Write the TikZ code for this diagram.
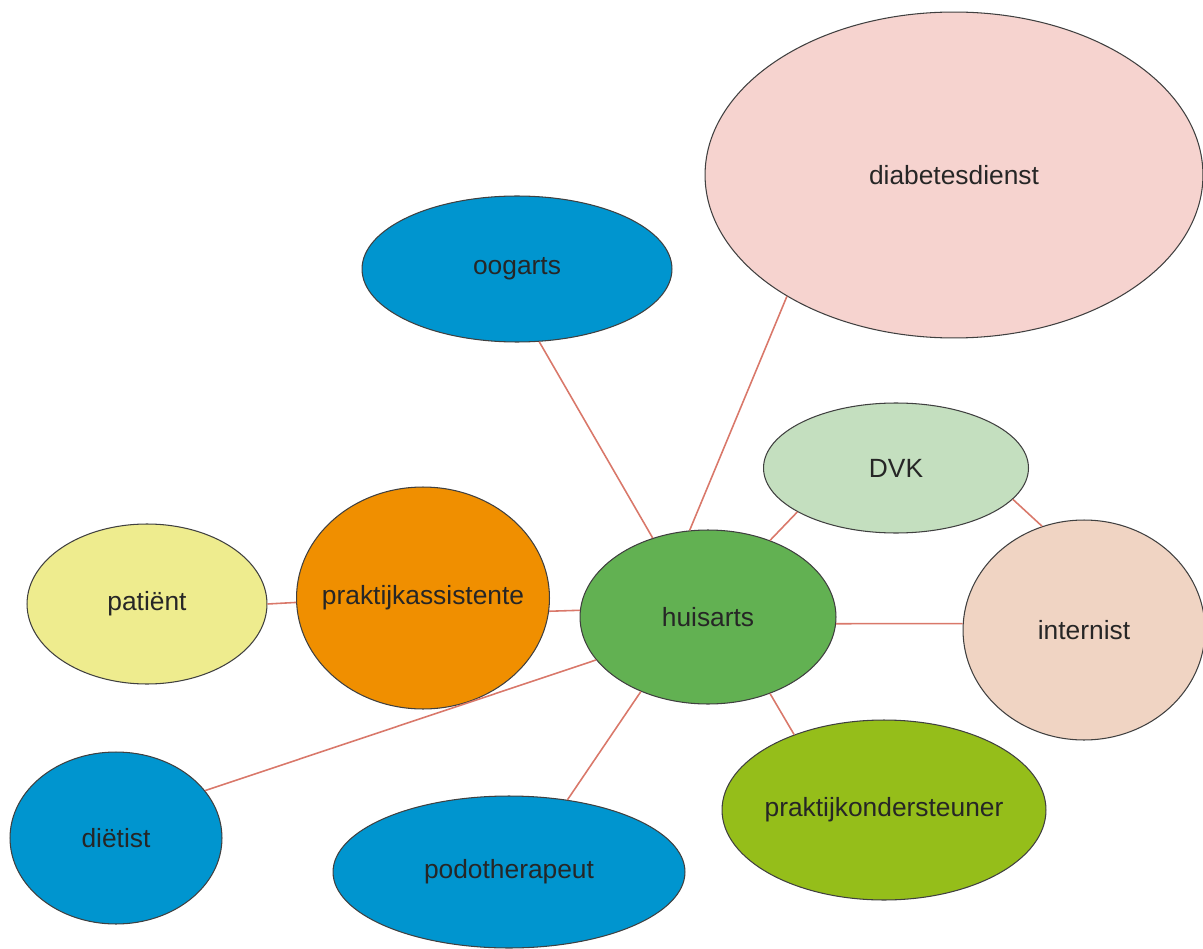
\documentclass[tikz,border=0pt]{standalone}
\usepackage{fontspec}
\setmainfont{Liberation Sans}
\usetikzlibrary{shapes.geometric}
\definecolor{pinkfill}{HTML}{F6D3CF}
\definecolor{bluefill}{HTML}{0095CF}
\definecolor{dvkfill}{HTML}{C4DFBF}
\definecolor{peachfill}{HTML}{F0D4C3}
\definecolor{yellowfill}{HTML}{EEEC8E}
\definecolor{orangefill}{HTML}{F08F00}
\definecolor{greenfill}{HTML}{62B152}
\definecolor{limefill}{HTML}{95BE1A}
\definecolor{linkred}{HTML}{D9786A}
\newcommand{\bubbletext}[1]{\makebox[0pt]{#1}}
\tikzset{
  bubble/.style={ellipse, draw=black!75, line width=0.6pt, inner sep=0pt,
    font=\fontsize{15}{18}\selectfont, text=black!85},
  link/.style={draw=linkred, line width=0.9pt}
}
\begin{document}
\begin{tikzpicture}[x=0.02cm,y=-0.02cm]
\useasboundingbox (0,0) rectangle (1203,949);
% bubbles
\node[bubble, fill=pinkfill, minimum width=9.96cm, minimum height=6.52cm] (diab) at (954,175) {\bubbletext{diabetesdienst}};
\node[bubble, fill=bluefill, minimum width=6.2cm, minimum height=2.92cm] (oog) at (517,269) {\bubbletext{oogarts}};
\node[bubble, fill=dvkfill, minimum width=5.3cm, minimum height=2.6cm] (dvk) at (896,468) {\bubbletext{DVK}};
\node[bubble, fill=peachfill, minimum width=4.84cm, minimum height=4.4cm] (intern) at (1084,630) {\bubbletext{internist}};
\node[bubble, fill=yellowfill, minimum width=4.8cm, minimum height=3.2cm] (pat) at (147,604) {\bubbletext{patiënt}};
\node[bubble, fill=orangefill, minimum width=5.06cm, minimum height=4.44cm] (assist) at (423,598) {\bubbletext{praktijkassistente}};
\node[bubble, fill=greenfill, minimum width=5.12cm, minimum height=3.48cm] (huis) at (708,617) {\bubbletext{huisarts}};
\node[bubble, fill=bluefill, minimum width=4.24cm, minimum height=3.44cm] (diet) at (116,838) {\bubbletext{diëtist}};
\node[bubble, fill=bluefill, minimum width=7.04cm, minimum height=3.04cm] (podo) at (509,872) {\bubbletext{podotherapeut}};
\node[bubble, fill=limefill, minimum width=6.48cm, minimum height=3.6cm] (poh) at (884,810) {\bubbletext{praktijkondersteuner}};
% links
\draw[link] (huis.102) -- (diab.216);
\draw[link] (huis.125) -- (oog.287);
\draw[link] (huis.51) -- (dvk.204);
\draw[link] (huis.-3) -- (intern.177);
\draw[link] (dvk.-15) -- (intern.112);
\draw[link] (pat.east) -- (assist.182);
\draw[link] (assist.-6) -- (huis.177);
\draw[link] (huis.201) -- (diet.28);
\draw[link] (huis.228) -- (podo.51);
\draw[link] (huis.309) -- (poh.140);
\end{tikzpicture}
\end{document}
